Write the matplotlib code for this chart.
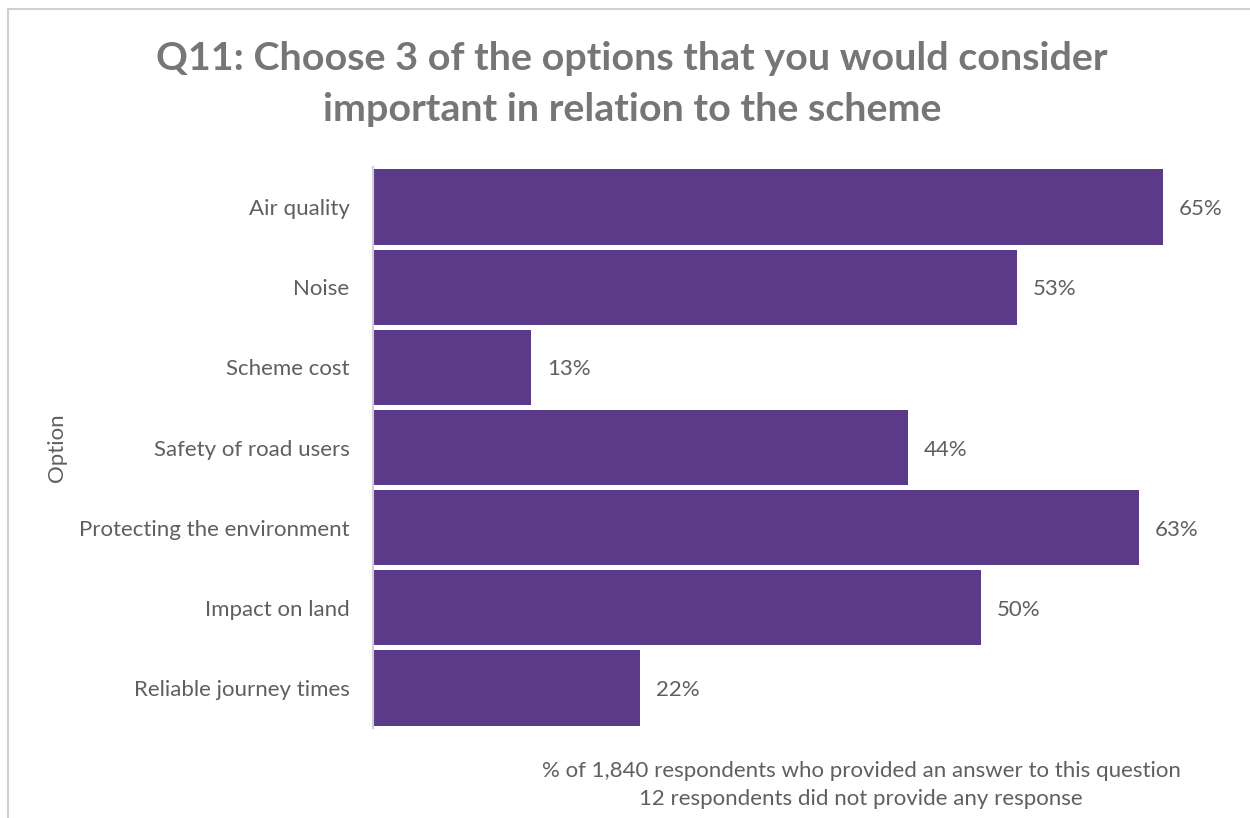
import matplotlib
matplotlib.use("Agg")
import matplotlib.pyplot as plt
from matplotlib.lines import Line2D

categories = [
    "Air quality",
    "Noise",
    "Scheme cost",
    "Safety of road users",
    "Protecting the environment",
    "Impact on land",
    "Reliable journey times",
]
percentages = [65, 53, 13, 44, 63, 50, 22]
value_labels = ["65%", "53%", "13%", "44%", "63%", "50%", "22%"]

title = "Q11: Choose 3 of the options that you would consider\nimportant in relation to the scheme"
y_label = "Option"
footnote = ("% of 1,840 respondents who provided an answer to this question\n"
            "12 respondents did not provide any response")

plt.rcParams["font.family"] = ["Lato", "DejaVu Sans"]

W, H = 1250, 818
fig = plt.figure(figsize=(W / 100, H / 100), dpi=100)

text_grey = "#5f5f5f"

# plot area in pixel terms
left_px, right_px = 373, 1224
top_px, bottom_px = 167, 728
ax = fig.add_axes([left_px / W, 1 - bottom_px / H,
                   (right_px - left_px) / W, (bottom_px - top_px) / H])

bar_color = "#5c3a8a"
ypos = list(range(len(categories)))
ax.barh(ypos, percentages, height=0.94, color=bar_color)
ax.set_ylim(len(categories) - 0.5, -0.5)
ax.set_xlim(0, 70)

for y, v, lab in zip(ypos, percentages, value_labels):
    ax.text(v + 1.3, y, lab, va="center_baseline", ha="left", fontsize=16,
            color=text_grey)

ax.set_yticks(ypos)
ax.set_yticklabels(categories, fontsize=16, color=text_grey)
ax.tick_params(axis="y", length=0, pad=17)
ax.set_xticks([])
for s in ["top", "right", "bottom"]:
    ax.spines[s].set_visible(False)
ax.spines["left"].set_color("#d0d0d0")
ax.spines["left"].set_linewidth(1.5)

fig.text(57 / W, 1 - 448 / H, y_label, rotation=90, ha="center", va="center",
         fontsize=16, color=text_grey)

fig.text(632 / W, 1 - 84 / H, title, ha="center", va="center", fontsize=28.4,
         fontweight="bold", color="#767676", linespacing=1.54)

fig.text(861 / W, 1 - 785 / H, footnote, ha="center", va="center", fontsize=16,
         color=text_grey, linespacing=1.52)

# chart frame
fig.add_artist(Line2D([8 / W, 1], [1 - 9 / H, 1 - 9 / H], color="#d0d0d0", lw=1.5,
                      transform=fig.transFigure))
fig.add_artist(Line2D([8 / W, 8 / W], [0, 1 - 9 / H], color="#d0d0d0", lw=1.5,
                      transform=fig.transFigure))

fig.savefig("out.png", dpi=100, facecolor="white")
